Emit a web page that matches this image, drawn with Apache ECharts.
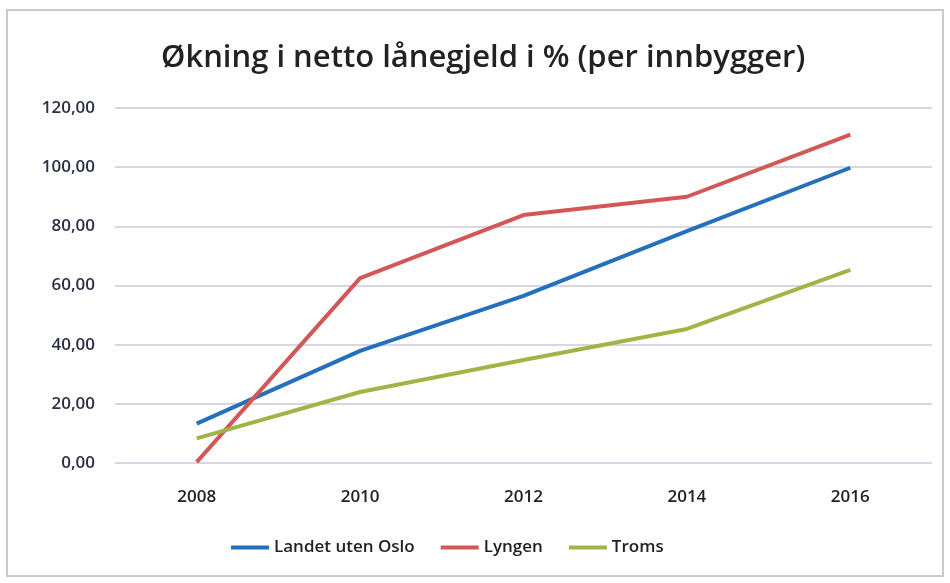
<!DOCTYPE html>
<html>
<head>
<meta charset="utf-8">
<script src="https://cdn.jsdelivr.net/npm/echarts@6/dist/echarts.min.js"></script>
<style>
  html, body { margin: 0; padding: 0; background: #fff; }
  #frame { position: absolute; left: 6px; top: 9px; width: 938px; height: 568px; border: 2px solid #c9c9cf; box-sizing: border-box; }
  #chart { position: absolute; left: 0; top: 0; width: 950px; height: 583px; }
</style>
</head>
<body>
<div id="frame"></div>
<div id="chart"></div>
<script>
const years = ['2008', '2010', '2012', '2014', '2016'];
const landetUtenOslo = [13.3, 37.9, 56.5, 78.4, 99.8];
const lyngen = [0.3, 62.5, 83.8, 90.0, 111.0];
const troms = [8.3, 24.0, 34.8, 45.3, 65.3];

const chart = echarts.init(document.getElementById('chart'));

function line(name, data, color) {
    return {
        name, type: 'line', data,
        symbol: 'none',
        lineStyle: { width: 4, color },
        itemStyle: { color }
    };
}

chart.setOption({
    animation: false,
    title: {
        text: 'Økning i netto lånegjeld i % (per innbygger)',
        left: 161,
        top: 43,
        padding: 0,
        textStyle: { fontFamily: 'Open Sans', fontWeight: 600, fontSize: 31, color: '#222' }
    },
    grid: { left: 115, right: 18, top: 108, bottom: 120 },
    legend: {
        bottom: 22,
        left: 226,
        itemWidth: 38,
        itemHeight: 4,
        itemGap: 26,
        icon: 'rect',
        textStyle: { fontFamily: 'Open Sans', fontWeight: 600, fontSize: 17, color: '#222' },
        data: ['Landet uten Oslo', 'Lyngen', 'Troms']
    },
    xAxis: {
        type: 'category',
        data: years,
        axisLine: { show: false },
        axisTick: { show: false },
        axisLabel: { margin: 26, fontFamily: 'Open Sans', fontWeight: 600, fontSize: 17, color: '#222' }
    },
    yAxis: {
        type: 'value',
        min: 0, max: 120, interval: 20,
        axisLabel: {
            margin: 20, fontFamily: 'Open Sans', fontWeight: 600, fontSize: 17, color: '#2a2f45',
            formatter: v => v.toFixed(2).replace('.', ',')
        },
        splitLine: { lineStyle: { color: '#c8cad8', width: 1.5 } }
    },
    series: [
        line('Landet uten Oslo', landetUtenOslo, '#2470bd'),
        line('Lyngen', lyngen, '#d45757'),
        line('Troms', troms, '#9fb647')
    ]
});
</script>
</body>
</html>
